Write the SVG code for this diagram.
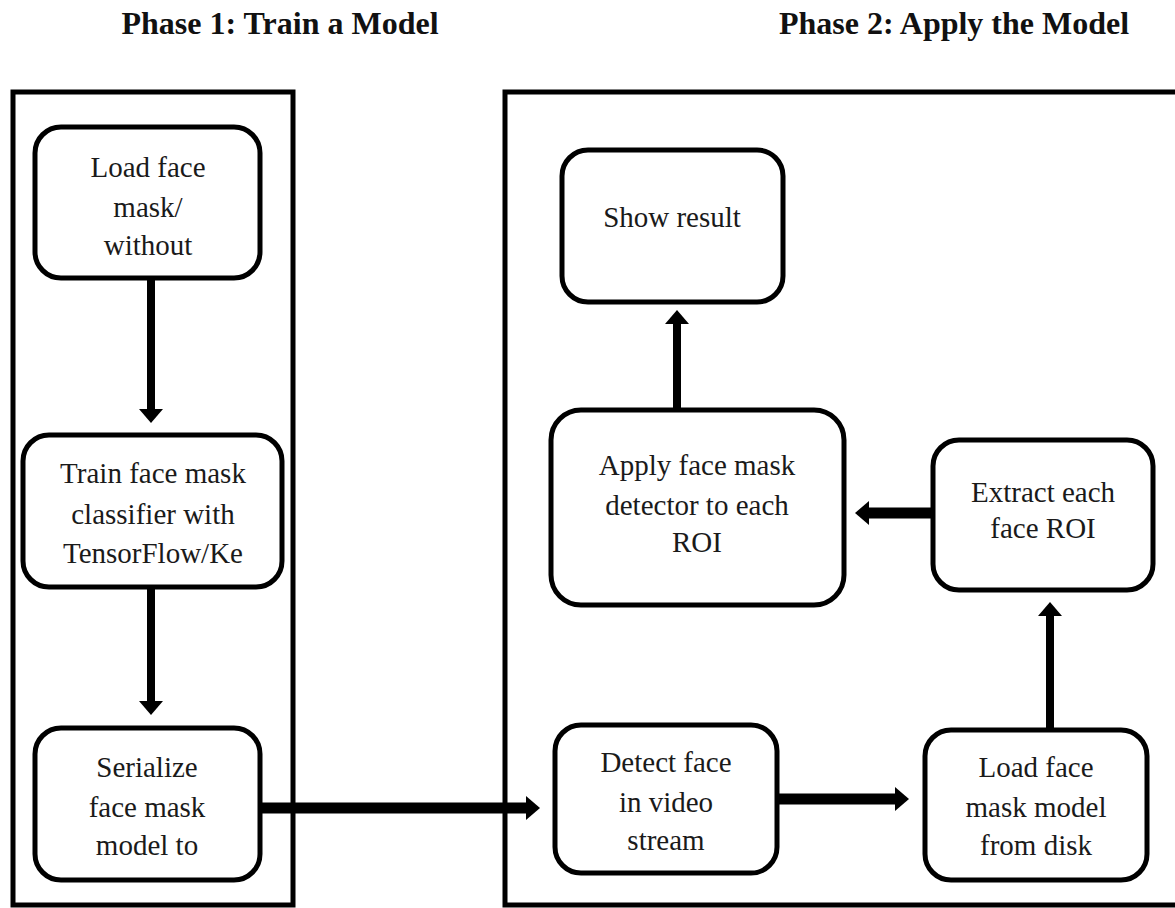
<svg xmlns="http://www.w3.org/2000/svg" width="1175" height="908" viewBox="0 0 1175 908">
  <style>
    .title { font-family: "Liberation Serif", "Times New Roman", serif; font-weight: bold; font-size: 32px; fill: #111; text-anchor: middle; }
    .panel { fill: none; stroke: #000; stroke-width: 5; }
    .box { fill: #fff; stroke: #000; stroke-width: 5; }
    .label { font-family: "Liberation Serif", "Times New Roman", serif; font-size: 29px; fill: #1a1a1a; text-anchor: middle; }
    .thin { fill: none; stroke: #000; stroke-width: 8; marker-end: url(#head); }
    .thick { fill: none; stroke: #000; stroke-width: 11; marker-end: url(#head); }
  </style>
  <defs>
    <marker id="head" markerUnits="userSpaceOnUse" viewBox="0 0 14 24" markerWidth="14" markerHeight="24" refX="0" refY="12" orient="auto">
      <path d="M0,0 L14,12 L0,24 Z" fill="#000"/>
    </marker>
  </defs>

  <rect width="1175" height="908" fill="#fff"/>

  <!-- section headings -->
  <text class="title" x="280" y="34">Phase 1: Train a Model</text>
  <text class="title" x="954" y="34">Phase 2: Apply the Model</text>

  <!-- phase frames -->
  <rect class="panel" x="13" y="92" width="280" height="813"/>
  <rect class="panel" x="505" y="92" width="680" height="813"/>

  <!-- connectors -->
  <g id="connectors">
    <path class="thin" d="M151,278 V409"/>
    <path class="thin" d="M151,587 V701"/>
    <path class="thick" d="M257,808 H526"/>
    <path class="thick" d="M777,799 H895"/>
    <path class="thin" d="M1050,730 V616"/>
    <path class="thick" d="M933,513 H869"/>
    <path class="thin" d="M677,410 V324"/>
  </g>

  <g id="load-dataset">
    <rect class="box" x="35" y="127" width="225" height="151" rx="26"/>
    <text class="label" x="148" y="177">Load face</text>
    <text class="label" x="148" y="217">mask/</text>
    <text class="label" x="148" y="255">without</text>
  </g>

  <g id="train-classifier">
    <rect class="box" x="23" y="435" width="259" height="152" rx="26"/>
    <text class="label" x="153" y="483">Train face mask</text>
    <text class="label" x="153" y="524">classifier with</text>
    <text class="label" x="153" y="563">TensorFlow/Ke</text>
  </g>

  <g id="serialize-model">
    <rect class="box" x="35" y="728" width="225" height="152" rx="26"/>
    <text class="label" x="147" y="777">Serialize</text>
    <text class="label" x="147" y="817">face mask</text>
    <text class="label" x="147" y="855">model to</text>
  </g>

  <g id="show-result">
    <rect class="box" x="562" y="150" width="221" height="152" rx="26"/>
    <text class="label" x="672" y="227">Show result</text>
  </g>

  <g id="apply-detector">
    <rect class="box" x="551" y="410" width="293" height="195" rx="30"/>
    <text class="label" x="697" y="475">Apply face mask</text>
    <text class="label" x="697" y="515">detector to each</text>
    <text class="label" x="697" y="552">ROI</text>
  </g>

  <g id="extract-roi">
    <rect class="box" x="933" y="440" width="220" height="150" rx="26"/>
    <text class="label" x="1043" y="502">Extract each</text>
    <text class="label" x="1043" y="538">face ROI</text>
  </g>

  <g id="detect-face">
    <rect class="box" x="555" y="725" width="222" height="148" rx="26"/>
    <text class="label" x="666" y="772">Detect face</text>
    <text class="label" x="666" y="812">in video</text>
    <text class="label" x="666" y="850">stream</text>
  </g>

  <g id="load-model">
    <rect class="box" x="925" y="730" width="222" height="150" rx="26"/>
    <text class="label" x="1036" y="777">Load face</text>
    <text class="label" x="1036" y="817">mask model</text>
    <text class="label" x="1036" y="855">from disk</text>
  </g>
</svg>
